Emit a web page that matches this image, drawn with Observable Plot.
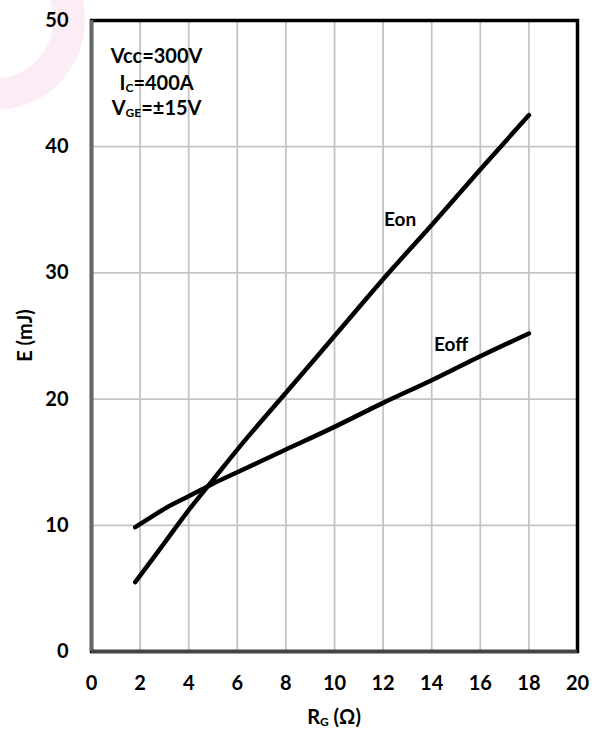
<!DOCTYPE html>
<html><head><meta charset="utf-8">
<script src="https://cdn.jsdelivr.net/npm/d3@7"></script>
<script src="https://cdn.jsdelivr.net/npm/@observablehq/plot@0.6"></script>
<style>
body{margin:0;background:#fff;font-family:Lato,"Open Sans",sans-serif;}
#wrap{position:relative;width:607px;height:731px;overflow:hidden;}
#wm{position:absolute;left:-95px;top:-70px;width:180px;height:180px;border-radius:50%;border:32px solid #fcecf6;box-sizing:border-box;}
#chart{position:absolute;left:0;top:0;}
</style></head>
<body><div id="wrap"><div id="wm"></div><div id="chart"></div></div>
<script>
const rg = [1.8, 2.5, 3, 4, 5, 6, 8, 10, 12, 14, 16, 18];
const eon = [5.5, 7.3, 8.6, 11.2, 13.6, 16.0, 20.5, 25.0, 29.5, 33.8, 38.2, 42.5];
const eoff = [9.85, 10.7, 11.3, 12.3, 13.3, 14.2, 16.0, 17.8, 19.7, 21.5, 23.4, 25.2];
const xTicks = [0, 2, 4, 6, 8, 10, 12, 14, 16, 18, 20];
const yTicks = [0, 10, 20, 30, 40, 50];
const seriesLabels = [{name: "Eon", x: 12.7, y: 34.2}, {name: "Eoff", x: 14.8, y: 24.3}];

const rows = [
  ...rg.map((x, i) => ({x, y: eon[i], s: "Eon"})),
  ...rg.map((x, i) => ({x, y: eoff[i], s: "Eoff"}))
];

const font = "Lato, 'Open Sans', sans-serif";
const plot = Plot.plot({
  width: 607, height: 731,
  marginLeft: 91, marginRight: 30, marginTop: 20, marginBottom: 80,
  style: {fontFamily: font, background: "transparent", color: "#000"},
  x: {domain: [0, 20]},
  y: {domain: [0, 50]},
  marks: [
    Plot.gridX(xTicks, {stroke: "#c4c4c4", strokeOpacity: 1, strokeWidth: 1.8}),
    Plot.gridY(yTicks, {stroke: "#c4c4c4", strokeOpacity: 1, strokeWidth: 1.8}),
    Plot.axisX(xTicks, {tickSize: 0, tickPadding: 24, fontSize: 20, fontWeight: "bold", label: null}),
    Plot.axisY(yTicks, {tickSize: 0, tickPadding: 23, fontSize: 20, fontWeight: "bold", label: null}),
    Plot.line(rows, {x: "x", y: "y", z: "s", stroke: "#000", strokeWidth: 4.5, curve: "monotone-x"}),
    Plot.text(seriesLabels, {x: "x", y: "y", text: "name", fontSize: 19, fontWeight: "bold", fill: "#000"}),
    Plot.frame({stroke: "#000", strokeWidth: 3.5}),
    Plot.ruleX([0], {stroke: "#666", strokeWidth: 3.5}),
    Plot.ruleY([0], {stroke: "#444", strokeWidth: 3.5})
  ]
});
document.getElementById("chart").append(plot);

const sx = plot.scale("x"), sy = plot.scale("y");
const svg = d3.select(plot);
function label(px, py, parts, rotate) {
  const t = svg.append("text")
    .attr("x", px).attr("y", py)
    .attr("text-anchor", "middle").attr("dominant-baseline", "central")
    .attr("font-family", font).attr("font-weight", "bold").attr("font-size", 20).attr("fill", "#000");
  if (rotate) t.attr("transform", `rotate(-90 ${px} ${py})`);
  let n = 0;
  for (const [s, sub] of parts) {
    const ts = t.append("tspan").text(s);
    if (sub) ts.attr("font-size", 12).attr("dy", 5);
    else if (n > 0) ts.attr("dy", -5);
    n++;
  }
}
// condition annotation
label(sx.apply(2.7), sy.apply(47.2), [["Vcc=300V", false]]);
label(sx.apply(2.7), sy.apply(45.1), [["I", false], ["C", true], ["=400A", false]]);
label(sx.apply(2.7), sy.apply(43.1), [["V", false], ["GE", true], ["=±15V", false]]);
// axis titles
label((sx.range[0] + sx.range[1]) / 2, 716, [["R", false], ["G", true], [" (Ω)", false]]);
label(24, (sy.range[0] + sy.range[1]) / 2, [["E (mJ)", false]], true);
</script>
</body></html>
